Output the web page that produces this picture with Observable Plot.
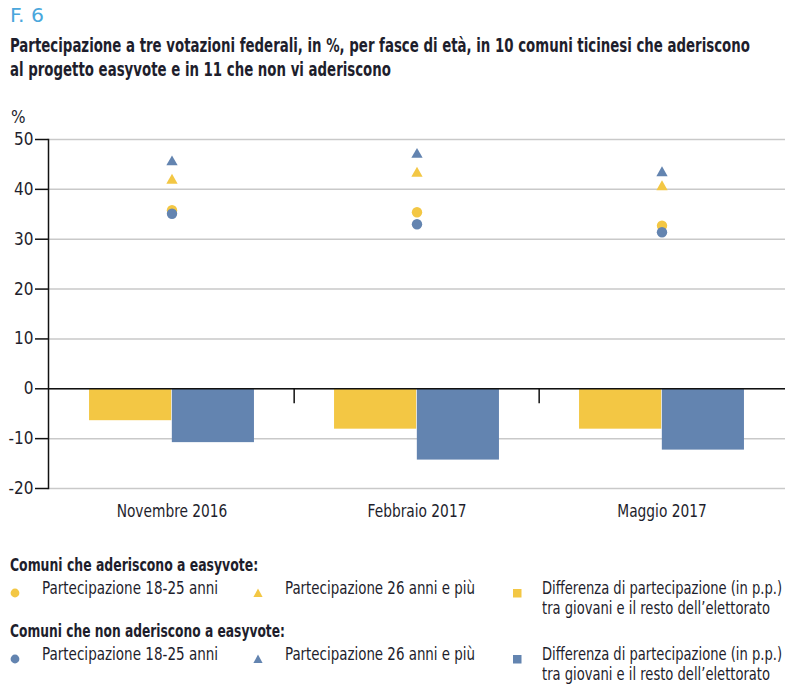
<!DOCTYPE html>
<html>
<head>
<meta charset="utf-8">
<script src="https://cdn.jsdelivr.net/npm/d3@7"></script>
<script src="https://cdn.jsdelivr.net/npm/@observablehq/plot@0.6"></script>
<style>
  body { margin: 0; background: #fff; font-family: "DejaVu Sans Condensed", "Liberation Sans Narrow", sans-serif; color: #1e1e2c; }
  #wrap { position: relative; width: 787px; height: 684px; overflow: hidden; }
  .abs { position: absolute; white-space: nowrap; }
  .fit { display: inline-block; transform-origin: left top; white-space: nowrap; }
  #fig { left: 10px; top: 4px; font-size: 19px; color: #4aa7dc; }
  #title { left: 10px; top: 33px; font-size: 19px; font-weight: bold; line-height: 24px; }
  #unit { left: 11px; top: 107px; font-size: 17px; }
  #chart { left: 0; top: 128px; }
  .lg-h { font-size: 17px; font-weight: bold; }
  .lg-t { font-size: 17px; line-height: 20px; }
</style>
</head>
<body>
<div id="wrap">
  <div id="fig" class="abs"><span class="fit" data-w="34">F. 6</span></div>
  <div id="title" class="abs"><span class="fit" data-w="740">Partecipazione a tre votazioni federali, in %, per fasce di età, in 10 comuni ticinesi che aderiscono<br>al progetto easyvote e in 11 che non vi aderiscono</span></div>
  <div id="unit" class="abs">%</div>
  <div id="chart" class="abs"></div>
  <div id="legend"></div>
</div>
<script>
const categories = ["Novembre 2016", "Febbraio 2017", "Maggio 2017"];
const giovaniAderenti = [35.8, 35.4, 32.7];
const over26Aderenti = [41.8, 43.2, 40.5];
const diffAderenti = [-6.4, -8.1, -8.1];
const giovaniNon = [35.1, 33.0, 31.4];
const over26Non = [45.5, 47.0, 43.3];
const diffNon = [-10.8, -14.3, -12.3];
const yTicks = [-20, -10, 0, 10, 20, 30, 40, 50];
const groupTitles = ["Comuni che aderiscono a easyvote:", "Comuni che non aderiscono a easyvote:"];
const legendLabels = ["Partecipazione 18-25 anni", "Partecipazione 26 anni e più", "Differenza di partecipazione (in p.p.)<br>tra giovani e il resto dell\u2019elettorato"];

const yellow = "#f3c744";
const blue = "#6384b0";

const rows = categories.map((c, i) => ({
  cat: c,
  gA: giovaniAderenti[i], oA: over26Aderenti[i], dA: diffAderenti[i],
  gN: giovaniNon[i], oN: over26Non[i], dN: diffNon[i]
}));

const W = 787, mL = 48, mR = 2;
const bw = (W - mL - mR) / categories.length;
const gap = bw * 0.163;

const chart = Plot.plot({
  width: W, height: 400,
  marginLeft: mL, marginRight: mR, marginTop: 11, marginBottom: 40,
  style: { fontFamily: "DejaVu Sans Condensed, Liberation Sans Narrow, sans-serif", fontSize: "17px", color: "#1e1e2c" },
  x: { domain: categories, padding: 0, axis: null, label: null },
  y: { domain: [-20, 50], axis: null, label: null },
  marks: [
    Plot.gridY(yTicks, { stroke: "#c9c9c9", strokeOpacity: 1, strokeWidth: 1.5 }),
    Plot.barY(rows, { x: "cat", y: "dA", fill: yellow, insetLeft: gap, insetRight: bw / 2 }),
    Plot.barY(rows, { x: "cat", y: "dN", fill: blue, insetLeft: bw / 2, insetRight: gap }),
    Plot.ruleY([0], { stroke: "#111", strokeWidth: 1.5 }),
    Plot.ruleX(categories.slice(1), { x: d => d, dx: -bw / 2, y1: 0, y2: -3, stroke: "#111", strokeWidth: 1.5 }),
    Plot.frame({ anchor: "left", stroke: "#111", strokeWidth: 1.5 }),
    Plot.axisY({ ticks: yTicks, tickSize: 13, tickPadding: 2, tickFormat: d => String(d), label: null, stroke: "#111", strokeWidth: 1.5, fontSize: 17 }),
    Plot.axisX({ tickSize: 0, tickPadding: 16, label: null, fontSize: 17 }),
    Plot.dot(rows, { x: "cat", y: "oA", symbol: "triangle", fill: yellow, r: 4.2 }),
    Plot.dot(rows, { x: "cat", y: "oN", symbol: "triangle", fill: blue, r: 4.2 }),
    Plot.dot(rows, { x: "cat", y: "gA", symbol: "circle", fill: yellow, r: 5.2 }),
    Plot.dot(rows, { x: "cat", y: "gN", symbol: "circle", fill: blue, r: 5.2 })
  ]
});
document.getElementById("chart").appendChild(chart);

// narrow the x labels to the reference's condensed look
chart.querySelectorAll('g[aria-label="x-axis tick label"] text').forEach(t => {
  const w = t.getComputedTextLength();
  t.setAttribute("textLength", (w * 0.9).toFixed(1));
  t.setAttribute("lengthAdjust", "spacingAndGlyphs");
});

// Legend (HTML)
const legend = document.getElementById("legend");
const groupColors = [yellow, blue];
const headTops = [555, 621];
const headW = [248, 275];
const rowTops = [578, 644];
const symX = [15, 258, 517];
const txtX = [42, 285, 542];
const txtW = [176, 190, 240];
function symbolSvg(kind, color) {
  let shape;
  if (kind === 0) shape = `<circle cx="5" cy="5" r="4.4" fill="${color}"/>`;
  else if (kind === 1) shape = `<path d="M5,0.6 L9.6,9 L0.4,9 Z" fill="${color}"/>`;
  else shape = `<rect x="1" y="1" width="8.5" height="8.5" fill="${color}"/>`;
  return `<svg width="10" height="10" viewBox="0 0 10 10">${shape}</svg>`;
}
groupTitles.forEach((t, g) => {
  const h = document.createElement("div");
  h.className = "abs lg-h";
  h.style.left = "10px"; h.style.top = headTops[g] + "px";
  h.innerHTML = `<span class="fit" data-w="${headW[g]}">${t}</span>`;
  legend.appendChild(h);
  legendLabels.forEach((lab, k) => {
    const s = document.createElement("div");
    s.className = "abs";
    s.style.left = (symX[k] - 5) + "px"; s.style.top = (rowTops[g] + 5) + "px";
    s.innerHTML = symbolSvg(k, groupColors[g]);
    legend.appendChild(s);
    const tx = document.createElement("div");
    tx.className = "abs lg-t";
    tx.style.left = txtX[k] + "px"; tx.style.top = rowTops[g] + "px";
    tx.innerHTML = `<span class="fit" data-w="${txtW[k]}">${lab}</span>`;
    legend.appendChild(tx);
  });
});

// squeeze texts horizontally to their reference widths
document.querySelectorAll(".fit").forEach(el => {
  const target = +el.dataset.w;
  const w = el.getBoundingClientRect().width;
  if (w > 0) el.style.transform = `scaleX(${(target / w).toFixed(3)})`;
});
</script>
</body>
</html>
